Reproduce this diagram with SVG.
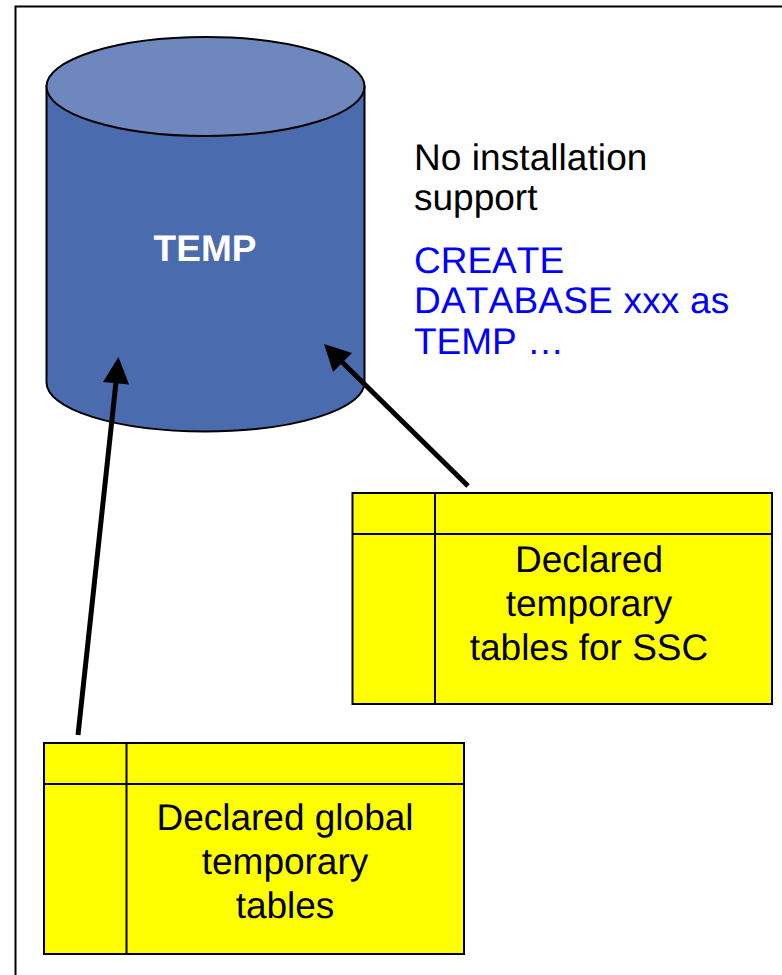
<svg xmlns="http://www.w3.org/2000/svg" width="782" height="975" viewBox="0 0 782 975">
<style>
text{font-family:"Liberation Sans",Arial,sans-serif;font-size:37px;font-kerning:none;text-rendering:geometricPrecision}
.c{text-anchor:middle;fill:#000}
.o{fill:none;stroke:#000;stroke-width:2}
.t{fill:#ff0;stroke:#000;stroke-width:2}
.a{stroke:#000;stroke-width:5;fill:none}
</style>
<rect width="782" height="975" fill="#fff"/>
<rect id="frame" x="15.5" y="6.5" width="780" height="980" fill="#fff" stroke="#000" stroke-width="2"/>
<g id="temp">
<path d="M46.500 86.500V382.500A159 49 0 0 0 364.500 382.500V86.500Z" fill="#4a6bad" stroke="#000" stroke-width="2"/>
<ellipse cx="205.500" cy="86.500" rx="159" ry="49.500" fill="#6e87bd" stroke="#000" stroke-width="2"/>
<text x="205" y="261" text-anchor="middle" fill="#fff" font-weight="bold">TEMP</text>
</g>
<g id="note">
<text x="414" y="170" letter-spacing="0.07">No installation</text>
<text x="414" y="210">support</text>
<text x="414" y="273" fill="#00f">CREATE</text>
<text x="414" y="313" fill="#00f" letter-spacing="0.2">DATABASE xxx as</text>
<text x="414" y="354" fill="#00f">TEMP …</text>
</g>
<g id="ssc">
<rect class="t" x="352.500" y="493" width="419.500" height="211"/>
<path class="o" d="M435 493V704M352.500 534H772"/>
<text class="c" x="589" y="572">Declared</text>
<text class="c" x="589" y="616">temporary</text>
<text class="c" x="589" y="660">tables for SSC</text>
</g>
<g id="global">
<rect class="t" x="44" y="743" width="420" height="211"/>
<path class="o" d="M126.500 743V954M44 784H464"/>
<text class="c" x="285" y="830">Declared global</text>
<text class="c" x="285" y="874">temporary</text>
<text class="c" x="285" y="918">tables</text>
</g>
<g id="connectors">
<path class="a" d="M78 735L116 382"/>
<polygon points="118.500,357 129,384.500 103,382"/>
<path class="a" d="M468 486L341 361"/>
<polygon points="324,344 352,353 333,372"/>
</g>
</svg>
